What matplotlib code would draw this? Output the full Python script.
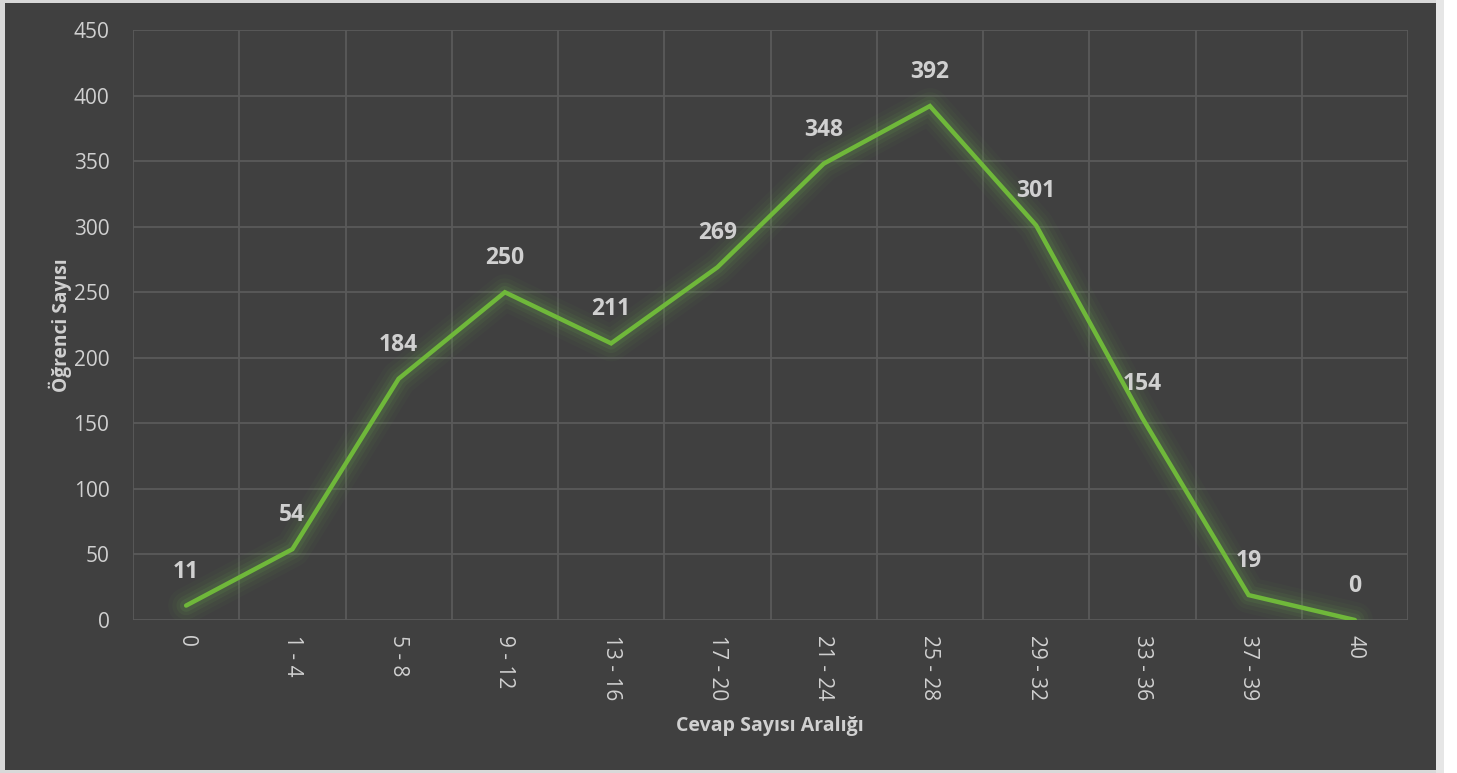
import matplotlib
matplotlib.use("Agg")
import matplotlib.pyplot as plt
from matplotlib.patches import Rectangle

categories = ["0", "1 - 4", "5 - 8", "9 - 12", "13 - 16", "17 - 20", "21 - 24",
              "25 - 28", "29 - 32", "33 - 36", "37 - 39", "40"]
values = [11, 54, 184, 250, 211, 269, 348, 392, 301, 154, 19, 0]
y_ticks = [0, 50, 100, 150, 200, 250, 300, 350, 400, 450]

plt.rcParams['font.family'] = ['Open Sans', 'DejaVu Sans']

W, H = 1457, 773
fig = plt.figure(figsize=(W / 100, H / 100), dpi=100, facecolor='white')

# panel background with light border/shadow
fig.patches.append(Rectangle((1436 / W, 0), 8 / W, 1, transform=fig.transFigure,
                             facecolor='#e6e6e6', edgecolor='none', zorder=-3))
fig.patches.append(Rectangle((0, 0), 1436 / W, 1, transform=fig.transFigure,
                             facecolor='#d9d9d9', edgecolor='none', zorder=-2))
fig.patches.append(Rectangle((5 / W, 3 / H), 1431 / W, 767 / H, transform=fig.transFigure,
                             facecolor='#404040', edgecolor='none', zorder=-1))

ax = fig.add_axes([133 / W, 153 / H, 1275 / W, 590 / H])
ax.set_facecolor('none')

x = list(range(len(categories)))
green = '#6FB83A'
# glow
for lw, a in [(26, 0.04), (20, 0.06), (14, 0.09), (9, 0.13)]:
    ax.plot(x, values, color='#6aa84f', lw=lw, alpha=a, solid_capstyle='round',
            solid_joinstyle='round', zorder=3)
ax.plot(x, values, color=green, lw=3.2, solid_capstyle='round',
        solid_joinstyle='miter', zorder=4)

for xi, v in zip(x, values):
    ax.annotate(str(v), (xi, v), xytext=(0, 24.5), textcoords='offset points',
                ha='center', va='center', fontsize=16.5, fontweight='bold',
                color='#d0d0d0', zorder=5)

ax.set_xlim(-0.5, len(categories) - 0.5)
ax.set_ylim(0, 450)
ax.set_yticks(y_ticks)
ax.set_xticks(x)
ax.set_xticklabels(categories, rotation=-90, fontsize=15, color='#d0d0d0')
ax.set_xticks([i - 0.5 for i in range(len(categories) + 1)], minor=True)
ax.tick_params(axis='y', length=0, pad=17, labelsize=15, labelcolor='#d0d0d0')
ax.tick_params(axis='x', which='major', length=0, pad=11)
ax.tick_params(axis='x', which='minor', length=0)
ax.grid(axis='y', color='#5a5a5a', lw=1.3, zorder=0)
ax.grid(axis='x', which='minor', color='#5a5a5a', lw=1.3, zorder=0)
for s in ax.spines.values():
    s.set_visible(False)

fig.text(770 / W, 1 - 726 / H, "Cevap Sayısı Aralığı", ha='center', va='center',
         fontsize=14, fontweight='bold', color='#d0d0d0')
fig.text(60 / W, 1 - 325 / H, "Öğrenci Sayısı", ha='center', va='center', rotation=90,
         fontsize=13.8, fontweight='bold', color='#d0d0d0')

fig.savefig("out.png", dpi=100, facecolor=fig.get_facecolor())
